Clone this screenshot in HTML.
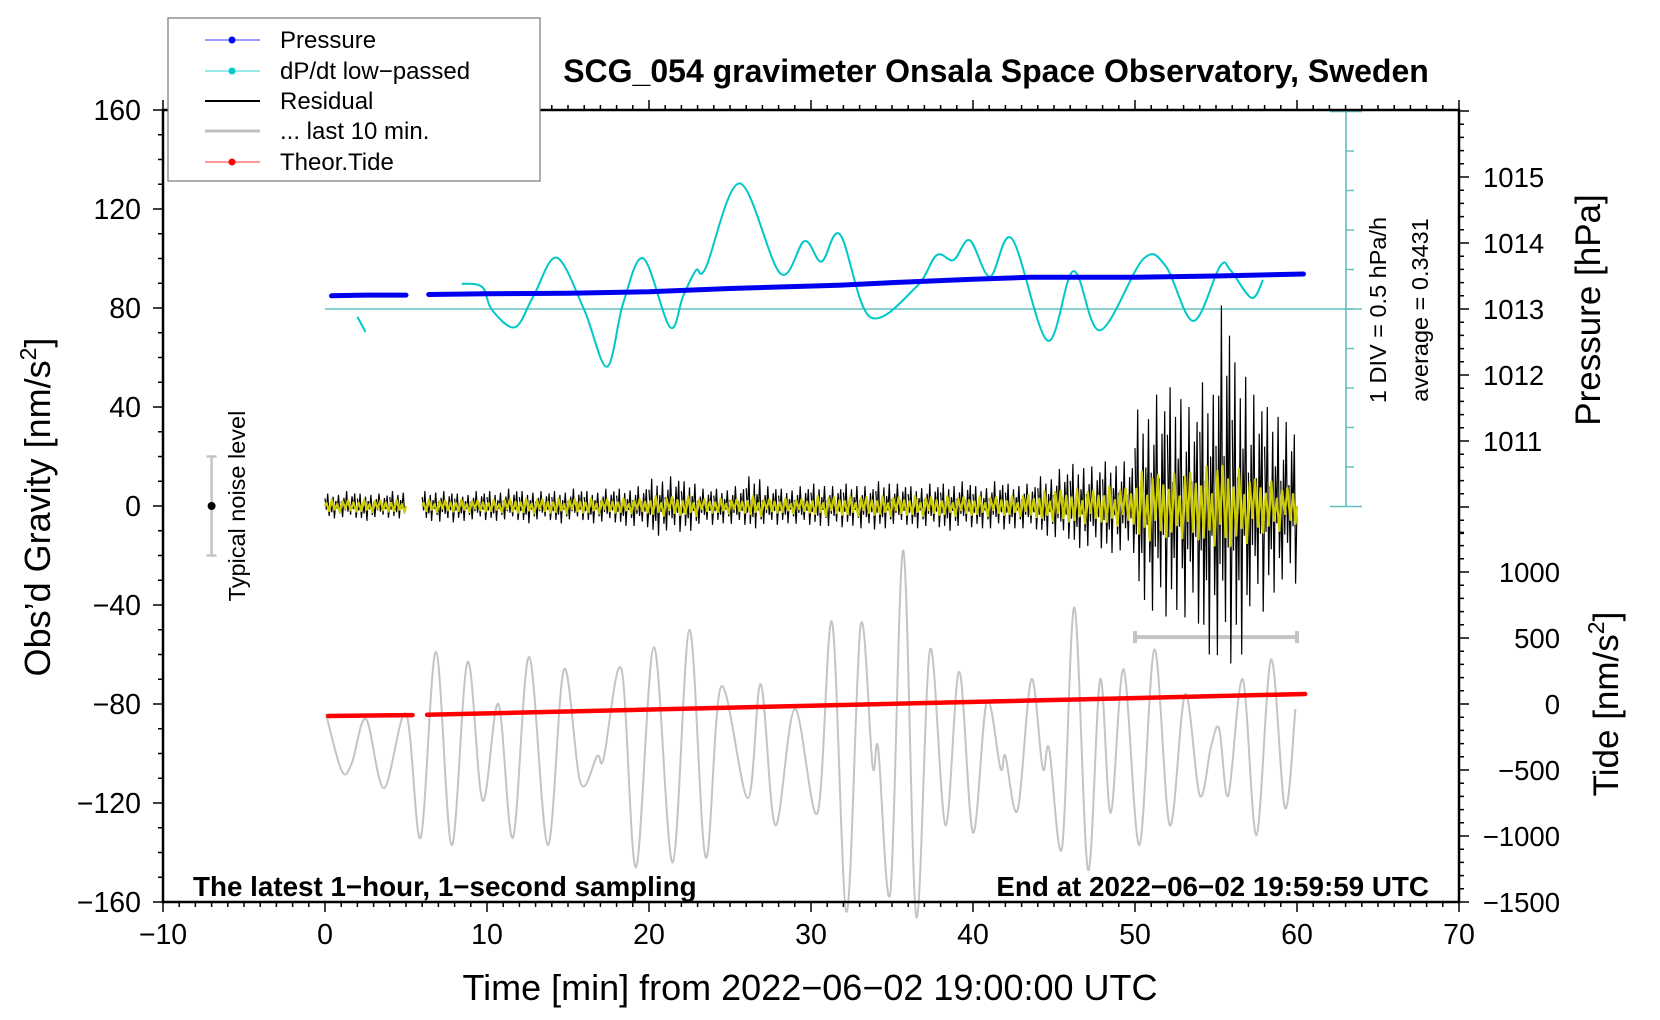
<!DOCTYPE html>
<html><head><meta charset="utf-8">
<style>
html,body{margin:0;padding:0;background:#fff;}
svg{display:block;font-family:"Liberation Sans",Arial,sans-serif;}
</style></head>
<body>
<svg id="chart" width="1660" height="1020" viewBox="0 0 1660 1020" xmlns="http://www.w3.org/2000/svg">
<rect x="0" y="0" width="1660" height="1020" fill="#fff"/>
<g id="marks"></g>
<g id="axes"></g>
<text x="996" y="82" text-anchor="middle" font-size="32" font-weight="bold">SCG_054 gravimeter Onsala Space Observatory, Sweden</text>
<text x="193" y="896" font-size="27.8" font-weight="bold">The latest 1−hour, 1−second sampling</text>
<text x="1429" y="896" text-anchor="end" font-size="27.8" font-weight="bold">End at 2022−06−02 19:59:59 UTC</text>
<text x="810" y="1000" text-anchor="middle" font-size="36">Time [min] from 2022−06−02 19:00:00 UTC</text>
<text transform="translate(50,507) rotate(-90)" text-anchor="middle" font-size="36">Obs’d Gravity [nm/s<tspan font-size="23" dy="-14">2</tspan><tspan dy="14">]</tspan></text>
<text transform="translate(1600,310) rotate(-90)" text-anchor="middle" font-size="35">Pressure [hPa]</text>
<text transform="translate(1618,704) rotate(-90)" text-anchor="middle" font-size="35">Tide [nm/s<tspan font-size="23" dy="-14">2</tspan><tspan dy="14">]</tspan></text>
<text transform="translate(1386,310) rotate(-90)" text-anchor="middle" font-size="23.5">1 DIV = 0.5 hPa/h</text>
<text transform="translate(1428,310) rotate(-90)" text-anchor="middle" font-size="23.5">average = 0.3431</text>
<text transform="translate(245,506) rotate(-90)" text-anchor="middle" font-size="23.5">Typical noise level</text>
<g>
<rect x="168" y="18" width="372" height="163" fill="#fff" stroke="#777" stroke-width="1.2"/>
<g><line x1="205" y1="40" x2="260" y2="40" stroke="#33f" stroke-width="1"/><circle cx="232" cy="40" r="3.5" fill="#00f"/><text x="280" y="48" font-size="24">Pressure</text></g>
<g><line x1="205" y1="71" x2="260" y2="71" stroke="#3cc" stroke-width="1"/><circle cx="232" cy="71" r="3.5" fill="#0cc"/><text x="280" y="79" font-size="24">dP/dt low−passed</text></g>
<g><line x1="205" y1="101" x2="260" y2="101" stroke="#000" stroke-width="2"/><text x="280" y="109" font-size="24">Residual</text></g>
<g><line x1="205" y1="131" x2="260" y2="131" stroke="#c0c0c0" stroke-width="3"/><text x="280" y="139" font-size="24">... last 10 min.</text></g>
<g><line x1="205" y1="162" x2="260" y2="162" stroke="#f33" stroke-width="1"/><circle cx="232" cy="162" r="3.5" fill="#f00"/><text x="280" y="170" font-size="24">Theor.Tide</text></g>
</g>
</svg>
<script>
// ---- data ----
const greyT = [0.06,1.03,1.65,2.53,3.64,5.0,5.9,6.85,7.82,8.8,9.73,10.7,11.6,12.6,13.75,14.75,15.78,16.8,17.2,18.3,19.2,20.3,21.46,22.5,23.5,24.45,26.1,26.9,27.8,29.0,30.4,31.3,32.2,33.07,33.8,34.15,34.9,35.7,36.5,37.35,38.3,39.15,40.0,40.85,41.7,42.0,42.75,43.6,44.3,44.7,45.5,46.26,47.1,47.85,48.5,49.3,50.27,51.2,52.15,53.1,54.0,54.7,55.2,55.76,56.65,57.5,58.4,59.26,59.9];
const greyG = [-84,-107,-104,-86,-114,-84,-134,-59,-137,-63,-119,-80,-134,-61,-137,-66,-112,-101,-102,-66,-146,-57,-144,-50,-142,-73,-118,-72,-129,-82,-124,-47,-164,-48,-105,-98,-156,-18,-166,-58,-129,-67,-132,-79,-106,-101,-123,-70,-106,-98,-138,-41,-147,-70,-124,-66,-137,-58,-129,-76,-117,-97,-90,-117,-70,-133,-62,-122,-82];
const tideT = [0.2,5.4,6.3,60.5];
const tideV = [-91,-84,-82,76];
const dpT1 = [2.0,2.5];
const dpV1 = [-0.10,-0.29];
const dpT = [8.44,9.7,10.3,11.73,12.86,14.3,16.0,17.4,18.4,19.65,21.3,22.1,22.9,23.5,25.6,28.1,29.6,30.65,31.8,33.64,36.5,37.75,38.8,39.8,41.05,42.4,44.6,46.2,47.84,50.5,51.9,53.6,55.25,55.9,57.2,57.9];
const dpV = [0.32,0.28,-0.01,-0.23,0.16,0.65,-0.01,-0.73,0.07,0.64,-0.23,0.16,0.49,0.52,1.59,0.45,0.86,0.6,0.94,-0.1,0.28,0.68,0.62,0.87,0.41,0.89,-0.4,0.48,-0.27,0.63,0.54,-0.15,0.54,0.49,0.14,0.37];
const presT = [0.4,2.5,5.0,6.4,10,15,20,25,31.7,35,40,43.5,50,55,60.4];
const presV = [1013.20,1013.21,1013.21,1013.22,1013.23,1013.24,1013.26,1013.31,1013.36,1013.40,1013.45,1013.48,1013.48,1013.50,1013.53];
const residUp = [5,6,5,5,6,null,6,6,5,6,6,7,6,6,6,7,6,7,7,8,11,12,10,7,7,8,12,8,7,8,9,8,9,8,10,9,8,9,9,10,8,10,9,9,12,15,17,16,18,18,39,45,48,40,50,81,58,45,40,34];
const residDown = [-5,-5,-6,-5,-5,null,-6,-7,-6,-6,-6,-6,-7,-6,-7,-6,-7,-7,-8,-9,-12,-11,-10,-8,-7,-8,-9,-8,-7,-8,-8,-9,-8,-10,-9,-8,-9,-9,-10,-9,-9,-10,-9,-10,-12,-14,-17,-18,-19,-20,-38,-47,-42,-50,-60,-67,-60,-45,-35,-33];
const filtAmp = [2.5,2.5,2.5,2.5,2.5,null,2.5,2.5,2.5,2.5,2.5,3,3,3,3,3,3,3,3,3,4,4,4,3,3,3,4,3,3,3,4,4,4,4,4,4,4,4,4,4,4,4,4,5,6,7,7,7,8,8,14,14,13,15,16,18,15,12,10,8];
const xTicks = [-10,0,10,20,30,40,50,60,70];
const gTicks = [-160,-120,-80,-40,0,40,80,120,160];
const pTicks = [1011,1012,1013,1014,1015];
const tTicks = [-1500,-1000,-500,0,500,1000];

const X0=163, X1=1459, YT=110, YB=902;
const sx = t => X0 + (t+10)*(X1-X0)/80;
const sg = g => 506 - g*2.475;
const sp = p => 309 - (p-1013)*66;
const st = v => 704 - v*0.132;
const sd = v => 309 - v*79;
const NS='http://www.w3.org/2000/svg';
const marks=document.getElementById('marks'), axes=document.getElementById('axes');
function mk(tag,attrs,parent){const e=document.createElementNS(NS,tag);for(const k in attrs)e.setAttribute(k,attrs[k]);parent.appendChild(e);return e;}
function smoothPath(xs,ys){
  let d='M'+xs[0].toFixed(1)+','+ys[0].toFixed(1);
  for(let i=0;i<xs.length-1;i++){
    const x0=xs[Math.max(0,i-1)],y0=ys[Math.max(0,i-1)],x1=xs[i],y1=ys[i],x2=xs[i+1],y2=ys[i+1],x3=xs[Math.min(xs.length-1,i+2)],y3=ys[Math.min(xs.length-1,i+2)];
    const c1x=x1+(x2-x0)/6,c1y=y1+(y2-y0)/6,c2x=x2-(x3-x1)/6,c2y=y2-(y3-y1)/6;
    d+=' C'+c1x.toFixed(1)+','+c1y.toFixed(1)+' '+c2x.toFixed(1)+','+c2y.toFixed(1)+' '+x2.toFixed(1)+','+y2.toFixed(1);
  }
  return d;
}

let e;
e=mk('line',{x1:sx(0),y1:sd(0),x2:1362,y2:sd(0),stroke:'#66c0c0','stroke-width':1.5},marks);


e=mk('line',{x1:1346,y1:sd(2.5),x2:1346,y2:sd(-2.5),stroke:'#55b8b8','stroke-width':1.5},marks);


for(let k=-5;k<=5;k++){
  const y=sd(k*0.5);
  const x1=(k===-5||k===5)?1330:1346, x2=(k===-5||k===5)?1362:1354;
  e=mk('line',{x1:x1,y1:y,x2:x2,y2:y,stroke:'#66c0c0','stroke-width':1.5},marks);
  
  
}

e=mk('path',{d:smoothPath(greyT.map(sx),greyG.map(sg)),fill:'none',stroke:'#c4c4c4','stroke-width':2},marks);


e=mk('path',{d:`M${sx(50)},${sg(-53)}H${sx(60)}M${sx(50)},${sg(-53)-6}V${sg(-53)+6}M${sx(60)},${sg(-53)-6}V${sg(-53)+6}`,stroke:'#c4c4c4','stroke-width':4,fill:'none'},marks);



const pat=[0.6,-0.3,1,-0.8,0.2,-0.5,0.75,-1,0.4,-0.2,0.9,-0.6,0.3,-0.9,0.55,-0.35,1,-0.45,0.25,-0.7,0.65,-0.25,0.85,-0.95];
const fpat=[0.5,-0.8,1,-0.6,0.3,-1,0.8,-0.4,0.9,-0.7,0.6,-0.9];
let rd='', fd='';
for(let m=0;m<60;m++){
  if(residUp[m]===null) continue;
  const n=12, off=(m%2)*12;
  for(let j=0;j<n;j++){
    const t=m+j/n, p=pat[off+j];
    const v= p>0? p*residUp[m] : -p*residDown[m];
    rd += (j===0?'M':'L')+sx(t).toFixed(1)+','+sg(v).toFixed(1);
  }
  rd += 'L'+sx(m+1).toFixed(1)+','+sg(0).toFixed(1);
  const k=fpat.length/2;
  fd += 'M'+sx(m).toFixed(1)+','+sg(0).toFixed(1);
  for(let j=0;j<k;j++){
    const t=m+(j+0.5)/k, v=fpat[((m%2)*k+j)%fpat.length]*filtAmp[m];
    fd += 'L'+sx(t).toFixed(1)+','+sg(v).toFixed(1);
  }
  fd += 'L'+sx(m+1).toFixed(1)+','+sg(0).toFixed(1);
}
e=mk('path',{d:rd,fill:'none',stroke:'#000','stroke-width':1.2},marks);


e=mk('path',{d:fd,fill:'none',stroke:'#cccc00','stroke-width':2.2,'stroke-linejoin':'round'},marks);



e=mk('path',{d:smoothPath(dpT1.map(sx),dpV1.map(sd)),fill:'none',stroke:'#00c8c8','stroke-width':2},marks);


e=mk('path',{d:smoothPath(dpT.map(sx),dpV.map(sd)),fill:'none',stroke:'#00c8c8','stroke-width':2},marks);



function segPath(ts,vs,f,gapA,gapB){let d='',pen=false;for(let i=0;i<ts.length;i++){if(ts[i]>gapA&&ts[i]<gapB){pen=false;continue;}d+=(pen?'L':'M')+sx(ts[i]).toFixed(1)+','+f(vs[i]).toFixed(1);pen=true;if(i<ts.length-1&&ts[i]<=gapA&&ts[i+1]>=gapB)pen=false;}return d;}
e=mk('path',{d:segPath(presT,presV,sp,5.0,6.4),fill:'none',stroke:'#0000f0','stroke-width':5,'stroke-linecap':'round'},marks);



e=mk('path',{d:segPath(tideT,tideV,st,5.4,6.3),fill:'none',stroke:'#f00','stroke-width':4.5,'stroke-linecap':'round'},marks);



e=mk('path',{d:`M${sx(-7)},${sg(20)}V${sg(-20)}M${sx(-7)-5},${sg(20)}h10M${sx(-7)-5},${sg(-20)}h10`,stroke:'#c4c4c4','stroke-width':2.5,fill:'none'},marks);


e=mk('circle',{cx:sx(-7),cy:sg(0),r:4,fill:'#000'},marks);



e=mk('rect',{x:X0,y:YT,width:X1-X0,height:YB-YT,fill:'none',stroke:'#000','stroke-width':2.5},axes);


let td='';
for(let t=-10;t<=70;t++){const x=sx(t),L=(t%10===0)?10:5;td+=`M${x},${YB}v${L}M${x},${YT}v${-L}`;}
for(let g=-160;g<=160;g+=10){const y=sg(g),L=(g%40===0)?10:5;td+=`M${X0},${y}h${-L}`;}
for(let p=1009.6;p<=1016.05;p+=0.2){const y=sp(p);if(y<YT-0.5||y>sg(0)+60)continue;const L=(Math.abs(p-Math.round(p))<0.01)?10:5;td+=`M${X1},${y}h${L}`;}
for(let v=-1500;v<=1300;v+=100){const y=st(v);if(y<sg(0)+20)continue;const L=(v%500===0)?10:5;td+=`M${X1},${y}h${L}`;}
e=mk('path',{d:td,stroke:'#000','stroke-width':1.5,fill:'none'},axes);


xTicks.forEach(t=>{const el=mk('text',{x:sx(t),y:YB+42,'text-anchor':'middle','font-size':28.5},axes);el.textContent=String(t).replace('-','−');

});
gTicks.forEach(g=>{const el=mk('text',{x:X0-22,y:sg(g)+10,'text-anchor':'end','font-size':28.5},axes);el.textContent=String(g).replace('-','−');

});
pTicks.forEach(p=>{const el=mk('text',{x:1483,y:sp(p)+10,'font-size':27.5},axes);el.textContent=String(p);

});
tTicks.forEach(v=>{const el=mk('text',{x:1560,y:st(v)+10,'text-anchor':'end','font-size':27.5},axes);el.textContent=String(v).replace('-','−');

});
</script>
</body></html>
